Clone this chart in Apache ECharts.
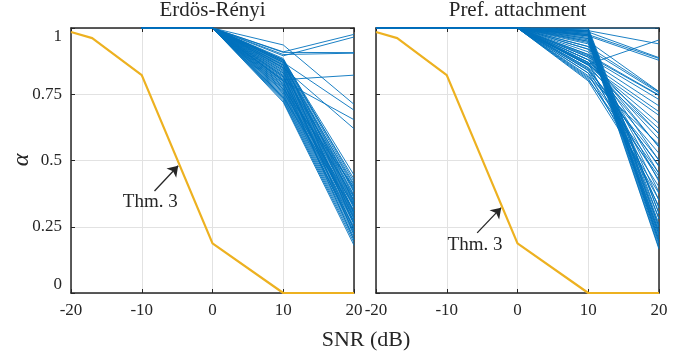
<!DOCTYPE html>
<html>
<head>
<meta charset="utf-8">
<script src="https://cdn.jsdelivr.net/npm/echarts@6/dist/echarts.min.js"></script>
<style>html,body{margin:0;padding:0;background:#fff;}#c{width:689px;height:358px;}</style>
</head>
<body>
<div id="c"></div>
<script>
// ---------------- data ----------------
const panelTitles = ['Erdös-Rényi', 'Pref. attachment'];
const xTickLabels = [-20, -10, 0, 10, 20];
const yTickLabels = ['0', '0.25', '0.5', '0.75', '1'];

// Thm. 3 bound (same in both panels)
const snrThm = [-20, -17, -10, 0, 10, 20];
const alphaThm = [0.985, 0.962, 0.822, 0.187, 0, 0];

// Erdős–Rényi simulations: SNR points, alpha = 1 at -10 and 0 dB
const snrER = [-10, 0, 10, 20];
const erStart = [1, 1];
// [alpha at 10 dB, alpha at 20 dB]
const erEnds = [
  [0.910, 0.976], [0.895, 0.966], [0.908, 0.907], [0.900, 0.905],
  [0.805, 0.822], [0.936, 0.712], [0.870, 0.690], [0.800, 0.654],
  [0.850, 0.620], [0.880, 0.445], [0.875, 0.430], [0.860, 0.405],
  [0.885, 0.420], [0.880, 0.410], [0.875, 0.395], [0.870, 0.385],
  [0.865, 0.380], [0.860, 0.370], [0.855, 0.365], [0.850, 0.360],
  [0.845, 0.350], [0.840, 0.345], [0.835, 0.340], [0.830, 0.335],
  [0.825, 0.330], [0.820, 0.325], [0.815, 0.320], [0.810, 0.310],
  [0.805, 0.305], [0.800, 0.300], [0.795, 0.295], [0.790, 0.290],
  [0.785, 0.285], [0.780, 0.280], [0.775, 0.270], [0.770, 0.265],
  [0.765, 0.260], [0.760, 0.250], [0.755, 0.245], [0.750, 0.240],
  [0.745, 0.230], [0.740, 0.220], [0.735, 0.210], [0.730, 0.200],
  [0.725, 0.190], [0.720, 0.180], [0.850, 0.280], [0.820, 0.240],
  [0.790, 0.360], [0.760, 0.330], [0.840, 0.220], [0.880, 0.300],
  [0.770, 0.400], [0.800, 0.200], [0.860, 0.260], [0.740, 0.310],
  [0.830, 0.390], [0.870, 0.345], [0.815, 0.270], [0.780, 0.230]
];

// Preferential attachment simulations: alpha = 1 at -20, -10, 0 dB
const snrPA = [-20, -10, 0, 10, 20];
const paStart = [1, 1, 1];
const paEnds = [
  [1.000, 1.000], [0.990, 0.940], [0.863, 0.955], [0.985, 0.888],
  [0.975, 0.885], [0.970, 0.878], [0.930, 0.759], [0.920, 0.755],
  [0.900, 0.747], [0.895, 0.745], [0.890, 0.730], [0.880, 0.706],
  [0.870, 0.684], [0.860, 0.670], [0.865, 0.640], [0.850, 0.602],
  [0.860, 0.552], [0.840, 0.527], [0.830, 0.502], [0.850, 0.477],
  [0.820, 0.452], [0.840, 0.427], [0.810, 0.401], [0.800, 0.376],
  [0.830, 0.351], [0.870, 0.326], [1.000, 0.300], [0.995, 0.280],
  [0.990, 0.260], [0.990, 0.250], [0.985, 0.240], [0.980, 0.230],
  [0.980, 0.220], [0.975, 0.210], [0.970, 0.200], [0.970, 0.190],
  [0.965, 0.180], [0.960, 0.170], [0.955, 0.165], [0.950, 0.220],
  [0.990, 0.200], [0.945, 0.280], [0.940, 0.320], [0.930, 0.350],
  [0.920, 0.380], [0.910, 0.420], [0.900, 0.450], [0.890, 0.500],
  [0.880, 0.550], [0.870, 0.580], [0.860, 0.620], [0.950, 0.760],
  [0.880, 0.600], [0.845, 0.480], [0.815, 0.560], [0.805, 0.440],
  [0.990, 0.300], [0.975, 0.250], [0.960, 0.230], [0.985, 0.190]
];

// annotation anchors (data coords): [tail, head, text]
const annER = {tail: [-8.2, 0.385], head: [-4.85, 0.48], text: [-8.8, 0.343]};
const annPA = {tail: [-5.7, 0.227], head: [-2.3, 0.322], text: [-6.0, 0.180]};

// ---------------- chart ----------------
const FONT = 'Liberation Serif';
const INK = '#262626';
const BLUE = '#0072BD';
const YELLOW = '#EDB120';
const grids = [
  {left: 71, top: 28, width: 283, height: 265},
  {left: 376, top: 28, width: 283, height: 265}
];

const xAxes = [], yAxes = [], series = [];
const frameLine = {onZero: false, lineStyle: {color: INK, width: 1.5}};
const tick = {inside: true, length: 4, lineStyle: {color: INK, width: 1}};
grids.forEach((g, i) => {
  xAxes.push({
    type: 'value', gridIndex: i, min: -20, max: 20, interval: 10, position: 'bottom',
    axisLine: frameLine, axisTick: tick,
    axisLabel: {fontFamily: FONT, fontSize: 17, color: INK, margin: 9,
      formatter: v => String(xTickLabels[xTickLabels.indexOf(v)])},
    splitLine: {show: true, lineStyle: {color: '#e2e2e2', width: 1}}
  });
  xAxes.push({
    type: 'value', gridIndex: i, min: -20, max: 20, interval: 10, position: 'top',
    axisLine: frameLine, axisTick: tick,
    axisLabel: {show: false}, splitLine: {show: false}
  });
  yAxes.push({
    type: 'value', gridIndex: i, min: 0, max: 1, interval: 0.25, position: 'left',
    axisLine: frameLine, axisTick: tick,
    axisLabel: {show: i === 0, fontFamily: FONT, fontSize: 17, color: INK, margin: 9,
      verticalAlignMinLabel: 'bottom', verticalAlignMaxLabel: 'top',
      formatter: v => yTickLabels[Math.round(v * 4)]},
    splitLine: {show: true, lineStyle: {color: '#e2e2e2', width: 1}}
  });
  yAxes.push({
    type: 'value', gridIndex: i, min: 0, max: 1, interval: 0.25, position: 'right',
    axisLine: frameLine, axisTick: tick,
    axisLabel: {show: false}, splitLine: {show: false}
  });
});

function addBlue(gi, xs, start, ends) {
  ends.forEach(e => {
    const vals = start.concat(e);
    series.push({
      type: 'line', xAxisIndex: gi * 2, yAxisIndex: gi * 2,
      data: xs.map((x, k) => [x, vals[k]]),
      showSymbol: false, symbol: 'none', silent: true, animation: false,
      lineStyle: {color: BLUE, width: 0.9}, z: 2
    });
  });
}
addBlue(0, snrER, erStart, erEnds);
addBlue(1, snrPA, paStart, paEnds);

[annER, annPA].forEach((a, gi) => {
  series.push({
    type: 'line', xAxisIndex: gi * 2, yAxisIndex: gi * 2,
    data: snrThm.map((x, k) => [x, alphaThm[k]]),
    showSymbol: false, symbol: 'none', silent: true, animation: false,
    lineStyle: {color: YELLOW, width: 2.2}, z: 5,
    markLine: {
      silent: true, animation: false,
      symbol: ['none', 'arrow'], symbolSize: 10,
      itemStyle: {color: INK},
      lineStyle: {color: INK, width: 1.3, type: 'solid'},
      label: {show: false},
      data: [[{coord: a.tail}, {coord: a.head}]]
    },
    markPoint: {
      silent: true, animation: false, symbol: 'circle', symbolSize: 1,
      itemStyle: {color: 'rgba(0,0,0,0)'},
      label: {show: true, position: 'inside', formatter: 'Thm. 3',
        fontFamily: FONT, fontSize: 19, color: INK},
      data: [{coord: a.text}]
    }
  });
});

const graphic = [];
grids.forEach((g, i) => {
  graphic.push({type: 'text', x: g.left + g.width / 2, y: 10,
    style: {text: panelTitles[i], font: '21px "' + FONT + '"', fill: INK,
      textAlign: 'center', textVerticalAlign: 'middle'}});
});
graphic.push({type: 'text', x: 366, y: 340,
  style: {text: 'SNR (dB)', font: '22px "' + FONT + '"', fill: INK,
    textAlign: 'center', textVerticalAlign: 'middle'}});
graphic.push({type: 'text', x: 22, y: 160, rotation: Math.PI / 2,
  style: {text: 'α', font: 'italic 24px "' + FONT + '"', fill: INK,
    textAlign: 'center', textVerticalAlign: 'middle'}});

const chart = echarts.init(document.getElementById('c'), null, {renderer: 'canvas'});
chart.setOption({
  animation: false,
  backgroundColor: '#fff',
  grid: grids,
  xAxis: xAxes,
  yAxis: yAxes,
  series: series,
  graphic: graphic
});
</script>
</body>
</html>
